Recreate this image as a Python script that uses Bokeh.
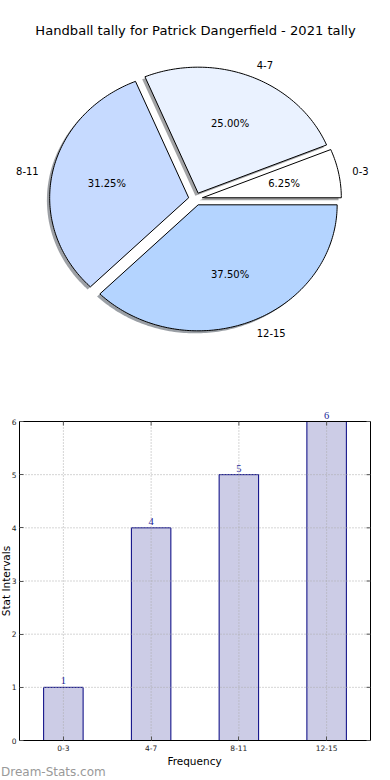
import numpy as np
from bokeh.plotting import figure
from bokeh.models import (Range1d, Label, LabelSet, FixedTicker, ColumnDataSource)
from bokeh.layouts import column
from bokeh.embed import file_html
from bokeh.resources import INLINE

# ---------------- data ----------------
title_text = "Handball tally for Patrick Dangerfield - 2021 tally"
categories = ["0-3", "4-7", "8-11", "12-15"]
counts = [1, 4, 5, 6]
pie_colors = ["#ffffff", "#eaf2ff", "#c6daff", "#b4d4ff"]
y_ticks = [0, 1, 2, 3, 4, 5, 6]
x_axis_label = "Frequency"
y_axis_label = "Stat Intervals"
watermark = "Dream-Stats.com"

FONT = "DejaVu Sans"

# ---------------- pie ----------------
total = float(sum(counts))
explode = 0.05
xs, ys, sxs, sys_ = [], [], [], []
lab_x, lab_y, lab_align = [], [], []
pct_x, pct_y, pct_text = [], [], []
shadow_colors = []
start = 0.0
for c, col in zip(counts, pie_colors):
    span = 360.0 * c / total
    t1, t2 = start, start + span
    mid = np.deg2rad((t1 + t2) / 2.0)
    cx, cy = explode * np.cos(mid), explode * np.sin(mid)
    n = max(int(span / 1.0), 4)
    th = np.deg2rad(np.linspace(t1, t2, n))
    px = np.concatenate([[cx], cx + np.cos(th), [cx]])
    py = np.concatenate([[cy], cy + np.sin(th), [cy]])
    xs.append(list(px)); ys.append(list(py))
    sxs.append(list(px - 0.02)); sys_.append(list(py - 0.02))
    rgb = [int(col[i:i + 2], 16) for i in (1, 3, 5)]
    shadow_colors.append("#%02x%02x%02x" % tuple(int(v * 0.3) for v in rgb))
    lab_x.append(cx + 1.1 * np.cos(mid)); lab_y.append(cy + 1.1 * np.sin(mid))
    lab_align.append("left" if np.cos(mid) > 0 else "right")
    pct_x.append(cx + 0.6 * np.cos(mid)); pct_y.append(cy + 0.6 * np.sin(mid))
    pct_text.append("%.2f%%" % (100.0 * c / total))
    start = t2

RX, RY = 139.0, 126.0          # pie radii in pixels
CX, CY = 195.0, 198.5          # pie centre in pixels
W, H1, H2 = 382, 378, 402
BL, BR, BT, BB = 19, 12, 43, 40  # space round the bar chart's box

p1 = figure(width=W, height=H1,
            x_range=Range1d(-CX / RX, (W - CX) / RX),
            y_range=Range1d(-(H1 - CY) / RY, CY / RY),
            output_backend="svg", toolbar_location=None,
            x_axis_location=None, y_axis_location=None, min_border=0)
p1.grid.visible = False
p1.outline_line_color = None

p1.patches(xs=sxs, ys=sys_, fill_color=shadow_colors, fill_alpha=0.5, line_color=None)
p1.patches(xs=xs, ys=ys, fill_color=pie_colors, line_color="#000000", line_width=1)

for lx, ly, la, t in zip(lab_x, lab_y, lab_align, categories):
    p1.add_layout(Label(x=lx, y=ly, text=t, text_align=la, text_baseline="middle",
                        text_font=FONT, text_font_size="10px", text_color="#000000"))
for qx, qy, t in zip(pct_x, pct_y, pct_text):
    p1.add_layout(Label(x=qx, y=qy, text=t, text_align="center", text_baseline="middle",
                        text_font=FONT, text_font_size="10px", text_color="#000000"))
p1.add_layout(Label(x=0, y=(CY - 30) / RY, text=title_text, text_align="center",
                    text_baseline="middle", text_font=FONT, text_font_size="13.1px",
                    text_color="#000000"))

# ---------------- bars ----------------
n_cat = len(categories)
idx = list(range(n_cat))
y_top = y_ticks[-1]
PX = (W - BL - BR) / n_cat          # pixels per category
PY = (H2 - BT - BB) / float(y_top)  # pixels per unit
x_lo, x_hi = -0.5, n_cat - 0.5

p2 = figure(width=W, height=H2,
            x_range=Range1d(x_lo - BL / PX, x_hi + BR / PX),
            y_range=Range1d(-BB / PY, y_top + BT / PY),
            output_backend="svg", toolbar_location=None, min_border=0)
p2.outline_line_color = None
p2.xgrid.visible = False
p2.ygrid.visible = False

src = ColumnDataSource(dict(x=idx, cat=categories, val=counts,
                            txt=[str(v) for v in counts]))
p2.vbar(x="x", top="val", width=0.45, source=src, fill_color="#ccccE6",
        line_color="#000080", line_width=1)

# dotted grid inside the box only
GRID = dict(line_color="#aaaaaa", line_dash="1 2", line_width=1)
p2.segment(x0=idx, y0=[0] * n_cat, x1=idx, y1=[y_top] * n_cat, **GRID)
p2.segment(x0=[x_lo] * len(y_ticks), y0=y_ticks, x1=[x_hi] * len(y_ticks),
           y1=y_ticks, **GRID)

# axes box
p2.quad(left=[x_lo], right=[x_hi], bottom=[0], top=[y_top], fill_color=None,
        line_color="#000000", line_width=1)

p2.add_layout(LabelSet(x="x", y="val", text="txt", source=src, text_align="center",
                       text_baseline="bottom", y_offset=3, text_font=FONT,
                       text_font_size="10.5px", text_color="#1c2699"))

ya = p2.yaxis[0]
xa = p2.xaxis[0]
ya.ticker = FixedTicker(ticks=y_ticks)
ya.fixed_location = x_lo
ya.bounds = (0, y_top)
xa.ticker = FixedTicker(ticks=idx)
xa.major_label_overrides = {i: c for i, c in zip(idx, categories)}
xa.fixed_location = 0
xa.bounds = (x_lo, x_hi)
for ax in (ya, xa):
    ax.axis_line_color = None
    ax.major_tick_in = 4
    ax.major_tick_out = 0
    ax.major_tick_line_color = "#555555"
    ax.minor_tick_line_color = None
    ax.major_label_text_font = FONT
    ax.major_label_text_font_size = "7.5px"
    ax.major_label_text_color = "#222222"
ya.major_label_standoff = 3
xa.major_label_standoff = 4

# inward ticks on the right and top sides of the box
tick_dx = 4 / PX
tick_dy = 4 / PY
p2.segment(x0=[x_hi - tick_dx] * len(y_ticks), y0=y_ticks,
           x1=[x_hi] * len(y_ticks), y1=y_ticks, line_color="#555555", line_width=1)
p2.segment(x0=idx, y0=[y_top] * n_cat, x1=idx, y1=[y_top - tick_dy] * n_cat,
           line_color="#555555", line_width=1)

# axis titles and watermark (page pixels converted to data units)
p2.add_layout(Label(x=x_lo + (194 - BL) / PX, y=-(760 - 740) / PY, text=x_axis_label,
                    text_align="center", text_baseline="middle", text_font=FONT,
                    text_font_size="10.5px", text_color="#000000"))
p2.add_layout(Label(x=x_lo + (5 - BL) / PX, y=y_top / 2.0, text=y_axis_label,
                    angle=np.pi / 2, text_align="center", text_baseline="middle",
                    text_font=FONT, text_font_size="10.5px", text_color="#000000"))
p2.add_layout(Label(x=x_lo + (0.5 - BL) / PX, y=-(771 - 740) / PY, text=watermark,
                    text_align="left", text_baseline="middle", text_font=FONT,
                    text_font_size="12px", text_color="#999999"))

layout = column(p1, p2, spacing=0)
open("out.html", "w").write(file_html(layout, INLINE))
